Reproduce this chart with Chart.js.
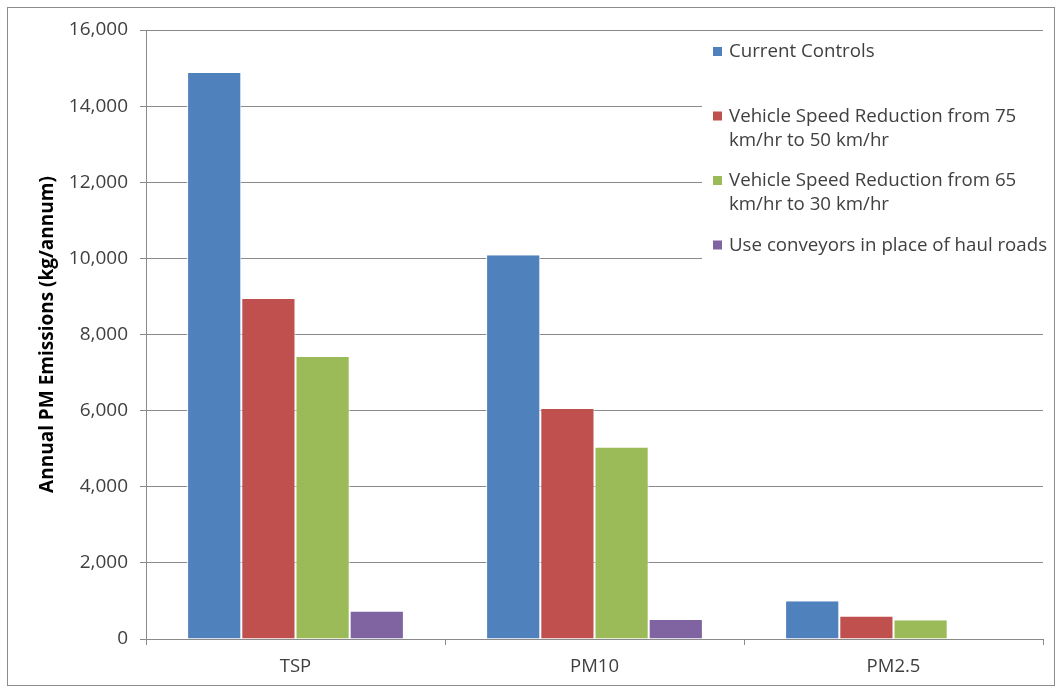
<!DOCTYPE html>
<html>
<head>
<meta charset="utf-8">
<script src="https://cdn.jsdelivr.net/npm/chart.js@4.4.1/dist/chart.umd.min.js"></script>
<style>
  html, body { margin: 0; padding: 0; background: #ffffff; }
  #wrap { position: relative; width: 1061px; height: 688px; }
  canvas { display: block; }
</style>
</head>
<body>
<div id="wrap"><canvas id="chart" width="1061" height="688"></canvas></div>
<script>
// Annual particulate emissions by control scenario (kg/annum)
const categories = ['TSP', 'PM10', 'PM2.5'];
const currentControls = [14870, 10080, 990];
const speed75to50 = [8930, 6040, 590];
const speed65to30 = [7410, 5030, 490];
const conveyors = [720, 500, 0];

const seriesLabels = [
  ['Current Controls'],
  ['Vehicle Speed Reduction from 75', 'km/hr to 50 km/hr'],
  ['Vehicle Speed Reduction from 65', 'km/hr to 30 km/hr'],
  ['Use conveyors in place of haul roads']
];
const seriesColors = ['#4F81BD', '#C0504D', '#9BBB59', '#8064A2'];
const seriesValues = [currentControls, speed75to50, speed65to30, conveyors];

const yAxisTitle = 'Annual PM Emissions (kg/annum)';
const yMin = 0, yMax = 16000, yStep = 2000;

const FONT = "'Open Sans', 'Liberation Sans', sans-serif";
const TEXT = '#404040';
const GRID = '#8a8a8a';

// Outer frame around the whole chart
const framePlugin = {
  id: 'frame',
  beforeDraw(chart) {
    const ctx = chart.ctx;
    ctx.save();
    ctx.fillStyle = '#ffffff';
    ctx.fillRect(0, 0, chart.width, chart.height);
    ctx.strokeStyle = '#8c8c8c';
    ctx.lineWidth = 1;
    ctx.strokeRect(7.5, 7.5, chart.width - 14, chart.height - 10);
    ctx.restore();
  }
};

// Legend panel in the upper right of the plot, with wrapped entries
const sideLegend = {
  id: 'sideLegend',
  afterDatasetsDraw(chart) {
    const ctx = chart.ctx;
    const area = chart.chartArea;
    const left = 702, top = 36;
    ctx.save();
    ctx.fillStyle = '#ffffff';
    ctx.fillRect(left, top, area.right - left + 1, 226);
    ctx.font = '18.7px ' + FONT;
    ctx.textBaseline = 'middle';
    ctx.textAlign = 'left';
    const slot = 64.5, lineH = 24;
    chart.data.datasets.forEach((ds, i) => {
      const y0 = 52 + i * slot;
      ctx.fillStyle = ds.backgroundColor;
      ctx.fillRect(713, y0 - 5, 9, 9);
      ctx.fillStyle = TEXT;
      ds.label.forEach((line, j) => ctx.fillText(line, 729, y0 + j * lineH));
    });
    ctx.restore();
  }
};

new Chart(document.getElementById('chart'), {
  type: 'bar',
  data: {
    labels: categories,
    datasets: seriesValues.map((vals, i) => ({
      label: seriesLabels[i],
      data: vals,
      backgroundColor: seriesColors[i],
      borderColor: '#ffffff',
      borderWidth: { left: 1, right: 1, top: 0, bottom: 0 },
      borderSkipped: false,
      categoryPercentage: 0.725,
      barPercentage: 1.0
    }))
  },
  options: {
    responsive: false,
    animation: false,
    devicePixelRatio: 1,
    layout: { padding: { top: 30, right: 18, left: 0, bottom: 0 } },
    plugins: {
      legend: { display: false },
      tooltip: { enabled: false }
    },
    scales: {
      x: {
        afterFit(scale) { scale.height = 49; },
        grid: {
          drawOnChartArea: false,
          drawTicks: true,
          tickLength: 6,
          color: GRID,
          offset: true
        },
        border: { display: true, color: GRID, width: 1 },
        ticks: {
          color: TEXT,
          font: { family: FONT, size: 18.5 },
          padding: 11
        }
      },
      y: {
        min: yMin,
        max: yMax,
        afterFit(scale) { scale.width = 146; },
        grid: {
          drawOnChartArea: true,
          drawTicks: true,
          tickLength: 6,
          color: GRID
        },
        border: { display: true, color: GRID, width: 1 },
        ticks: {
          stepSize: yStep,
          color: TEXT,
          font: { family: FONT, size: 19 },
          padding: 12,
          callback: v => v.toLocaleString('en-US')
        },
        title: {
          display: true,
          text: yAxisTitle,
          color: '#000000',
          font: { family: FONT, size: 19, weight: 'bold' },
          padding: { top: 36, bottom: 0 }
        }
      }
    }
  },
  plugins: [framePlugin, sideLegend]
});
</script>
</body>
</html>
